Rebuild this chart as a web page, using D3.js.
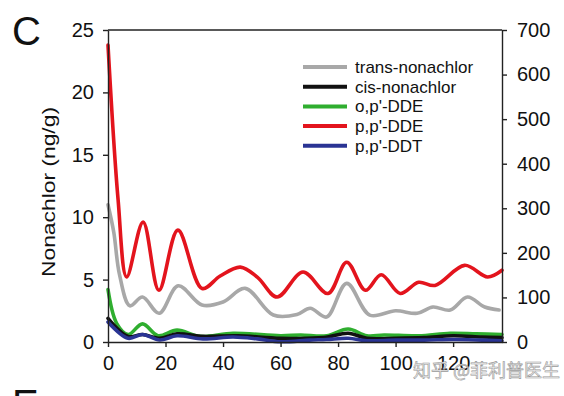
<!DOCTYPE html>
<html>
<head>
<meta charset="utf-8">
<script src="https://cdn.jsdelivr.net/npm/d3@7"></script>
<style>
  body { margin: 0; background: #fff; }
  svg { display: block; font-family: 'Liberation Sans', Arial, sans-serif; }
</style>
</head>
<body>
<div id="chart"></div>
<script>
let width = 564;
let height = 396;

let transDays = [0, 2, 4, 7.6, 12, 17.8, 24.4, 32.7, 40, 47.7, 57.5, 65.7, 70.3, 76, 83, 91, 100, 107.5, 113, 119, 125, 131, 136];
let transVals = [11.0, 8.8, 5.4, 2.9, 3.6, 2.3, 4.5, 2.96, 3.2, 4.3, 2.16, 2.2, 2.7, 2.0, 4.7, 2.16, 2.5, 2.3, 2.8, 2.56, 3.6, 2.8, 2.56];

let cisDays = [0, 7, 12, 18, 24, 33, 45, 60, 75, 83.5, 90, 100, 110, 120, 130, 137];
let cisVals = [1.9, 0.45, 0.6, 0.3, 0.65, 0.45, 0.5, 0.3, 0.35, 0.7, 0.3, 0.3, 0.35, 0.5, 0.4, 0.35];

let opDdeDays = [0, 3, 7, 12, 17.4, 24, 32, 43.5, 60, 67, 76, 83.5, 90, 96, 108, 119, 128, 137];
let opDdeVals = [4.2, 1.5, 0.6, 1.45, 0.5, 0.95, 0.45, 0.7, 0.5, 0.56, 0.5, 1.04, 0.5, 0.56, 0.5, 0.7, 0.65, 0.6];

// p,p'-DDE is read against the right axis
let ppDdeDays = [0, 3.5, 6.5, 12.2, 17.7, 24.3, 32.7, 39, 46, 52, 58.8, 67.8, 76.5, 83, 89.5, 95, 101.6, 108, 113.7, 124, 132, 137];
let ppDdeVals = [666, 320, 146, 269, 116, 251, 120, 148, 168, 145, 101, 157, 109, 179, 116, 151, 109, 134, 127, 172, 146, 161];

let ppDdtDays = [0, 7, 12, 18, 24, 33, 43.5, 52, 60, 70, 76, 83.5, 90, 100, 110, 120, 130, 137];
let ppDdtVals = [1.6, 0.3, 0.6, 0.16, 0.5, 0.25, 0.4, 0.25, 0.02, 0.15, 0.2, 0.3, 0.1, 0.15, 0.15, 0.2, 0.15, 0.1];

let legendLabels = ['trans-nonachlor', 'cis-nonachlor', "o,p'-DDE", "p,p'-DDE", "p,p'-DDT"];
let legendColors = ['#a8a8a8', '#111111', '#2fae2f', '#e3141d', '#2a3494'];

let xTicks = [0, 20, 40, 60, 80, 100, 120];
let leftTicks = [0, 5, 10, 15, 20, 25];
let rightTicks = [0, 100, 200, 300, 400, 500, 600, 700];

let svg = d3.select('#chart')
  .append('svg')
  .attr('width', width)
  .attr('height', height);

let x = d3.scaleLinear().domain([0, 137]).range([108, 502]);
let yLeft = d3.scaleLinear().domain([0, 25]).range([342, 30]);
let yRight = d3.scaleLinear().domain([0, 700]).range([342, 30]);

function series(days, vals, yScale, color) {
  let pts = days.map(function(d, i) { return [d, vals[i]]; });
  let line = d3.line()
    .x(function(d) { return x(d[0]); })
    .y(function(d) { return yScale(d[1]); })
    .curve(d3.curveCatmullRom.alpha(0.5));
  svg.append('path')
    .datum(pts)
    .attr('d', line)
    .attr('fill', 'none')
    .attr('stroke', color)
    .attr('stroke-width', 3.6)
    .attr('stroke-linejoin', 'round')
    .attr('stroke-linecap', 'round');
}

series(transDays, transVals, yLeft, legendColors[0]);
series(ppDdeDays, ppDdeVals, yRight, legendColors[3]);
series(opDdeDays, opDdeVals, yLeft, legendColors[2]);
series(cisDays, cisVals, yLeft, legendColors[1]);
series(ppDdtDays, ppDdtVals, yLeft, legendColors[4]);

// axes
let axisColor = '#222';

let gx = svg.append('g')
  .attr('transform', 'translate(0,342)')
  .call(d3.axisBottom(x).tickValues(xTicks).tickSize(5).tickPadding(9).tickSizeOuter(0));

let gl = svg.append('g')
  .attr('transform', 'translate(108,0)')
  .call(d3.axisLeft(yLeft).tickValues(leftTicks).tickSize(5).tickPadding(9).tickSizeOuter(0));

let gr = svg.append('g')
  .attr('transform', 'translate(502,0)')
  .call(d3.axisRight(yRight).tickValues(rightTicks).tickSize(5).tickPadding(10).tickSizeOuter(0));

[gx, gl, gr].forEach(function(g) {
  g.select('.domain').attr('stroke', axisColor).attr('stroke-width', 1.4);
  g.selectAll('.tick line').attr('stroke', axisColor).attr('stroke-width', 1.4);
  g.selectAll('.tick text')
    .attr('fill', '#111')
    .style('font-size', '20px')
    .style('font-family', "'Liberation Sans', Arial, sans-serif");
});

// top frame line
svg.append('line')
  .attr('x1', x(0)).attr('x2', x(137))
  .attr('y1', yLeft(25)).attr('y2', yLeft(25))
  .attr('stroke', axisColor)
  .attr('stroke-width', 1.4);

// y axis title
svg.append('text')
  .attr('transform', 'translate(55,192) rotate(-90)')
  .attr('text-anchor', 'middle')
  .attr('textLength', 170)
  .attr('lengthAdjust', 'spacingAndGlyphs')
  .style('font-size', '19px')
  .attr('fill', '#111')
  .text('Nonachlor (ng/g)');

// panel letters
svg.append('text')
  .attr('x', 12).attr('y', 45)
  .style('font-size', '40px')
  .attr('fill', '#111')
  .text('C');

svg.append('text')
  .attr('x', 12).attr('y', 418)
  .style('font-size', '40px')
  .attr('fill', '#111')
  .text('E');

// legend
let legend = svg.append('g').attr('transform', 'translate(303,67)');
legendLabels.forEach(function(lbl, i) {
  legend.append('line')
    .attr('x1', 0).attr('x2', 44)
    .attr('y1', i * 19.7).attr('y2', i * 19.7)
    .attr('stroke', legendColors[i])
    .attr('stroke-width', 4);
  legend.append('text')
    .attr('x', 52)
    .attr('y', i * 19.7 + 6)
    .style('font-size', '17px')
    .attr('fill', '#111')
    .text(lbl);
});

// watermark
svg.append('text')
  .attr('x', 413).attr('y', 377)
  .style('font-family', "'Noto Sans CJK SC', sans-serif")
  .style('font-size', '18px')
  .attr('fill', '#eeeeee')
  .attr('stroke', '#9a9a9a')
  .attr('stroke-width', 0.6)
  .text('知乎 @菲利普医生');
</script>
</body>
</html>
